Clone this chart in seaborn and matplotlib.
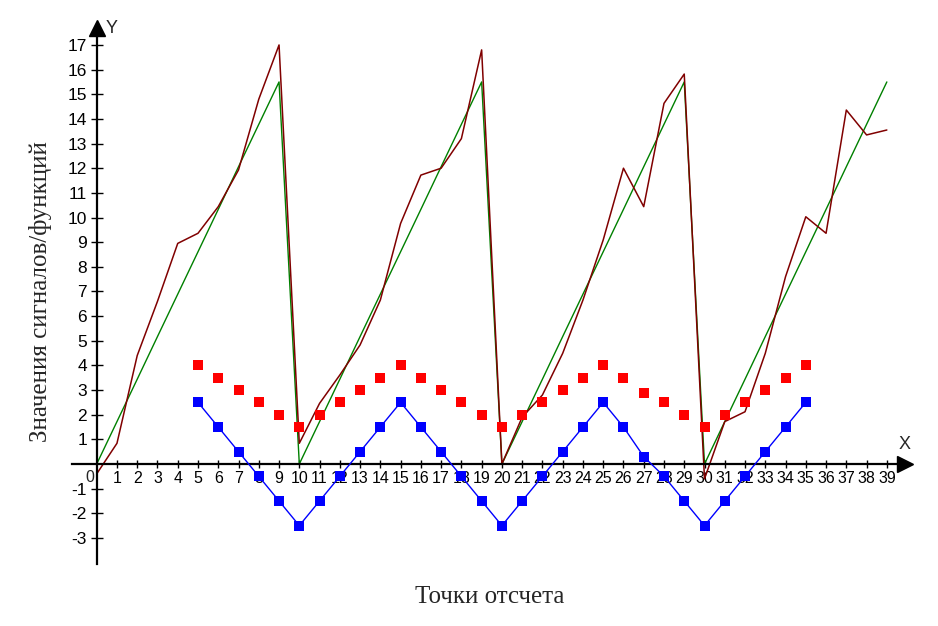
import numpy as np
import pandas as pd
import seaborn as sns
import matplotlib.pyplot as plt

# signal samples 0..39
x_pts = list(range(40))
signal = [-0.4, 0.84, 4.4, 6.6, 8.95, 9.36, 10.44, 11.93, 14.8, 17.0,
          0.84, 2.46, 3.61, 4.83, 6.65, 9.76, 11.72, 12.0, 13.2, 16.8,
          0.0, 1.9, 2.8, 4.49, 6.65, 9.09, 12.0, 10.44, 14.63, 15.82,
          -0.6, 1.72, 2.12, 4.49, 7.6, 10.03, 9.36, 14.36, 13.35, 13.55]
saw = [0, 1.72, 3.44, 5.17, 6.89, 8.61, 10.33, 12.06, 13.78, 15.5,
       0, 1.72, 3.44, 5.17, 6.89, 8.61, 10.33, 12.06, 13.78, 15.5,
       0, 1.72, 3.44, 5.17, 6.89, 8.61, 10.33, 12.06, 13.78, 15.5,
       0, 1.72, 3.44, 5.17, 6.89, 8.61, 10.33, 12.06, 13.78, 15.5]

# triangle functions on 5..35
x_tri = list(range(5, 36))
red_pts = [4, 3.5, 3, 2.5, 2, 1.5, 2, 2.5, 3, 3.5,
           4, 3.5, 3, 2.5, 2, 1.5, 2, 2.5, 3, 3.5,
           4, 3.5, 2.9, 2.5, 2, 1.5, 2, 2.5, 3, 3.5, 4]
blue_pts = [2.5, 1.5, 0.5, -0.5, -1.5, -2.5, -1.5, -0.5, 0.5, 1.5,
            2.5, 1.5, 0.5, -0.5, -1.5, -2.5, -1.5, -0.5, 0.5, 1.5,
            2.5, 1.5, 0.3, -0.5, -1.5, -2.5, -1.5, -0.5, 0.5, 1.5, 2.5]

x_ticks = list(range(1, 40))
y_ticks = [-3, -2, -1] + list(range(1, 18))

sns.set_style('white')
tick_font = ['Liberation Sans', 'DejaVu Sans']
serif_font = ['Liberation Serif', 'DejaVu Serif']

fig = plt.figure(figsize=(9.38, 6.26), dpi=100)
ax = fig.add_axes([0, 0, 1, 1])
ax.set_facecolor('white')

sns.lineplot(x=x_pts, y=saw, color='#008000', lw=1.0, ax=ax)
sns.lineplot(x=x_pts, y=signal, color='#800000', lw=1.1, ax=ax)
sns.scatterplot(x=x_tri, y=red_pts, marker='s', s=45, color='#ff0000',
                linewidth=0, ax=ax, zorder=3)
sns.lineplot(x=x_tri, y=blue_pts, color='#0000ff', lw=1.0, marker='s',
             markersize=6.5, markeredgewidth=0, ax=ax, zorder=4)

# pixel-matched limits
ax.set_xlim(-4.773, 41.525)
ax.set_ylim(-6.572, 18.824)

for s in ['top', 'right']:
    ax.spines[s].set_visible(False)
ax.spines['left'].set_position(('data', 0))
ax.spines['bottom'].set_position(('data', 0))
ax.spines['left'].set_bounds(-4.06, 17.6)
ax.spines['bottom'].set_bounds(-1.2, 39.9)
for s in ['left', 'bottom']:
    ax.spines[s].set_linewidth(1.6)
    ax.spines[s].set_color('black')

# arrow heads
ax.plot(39.9, 0, marker='>', ms=11, color='black', clip_on=False, zorder=5)
ax.plot(0, 17.69, marker='^', ms=11, color='black', clip_on=False, zorder=5)
ax.text(39.9, 0.45, 'X', ha='center', va='bottom', fontsize=13,
        family=tick_font)
ax.text(0.45, 17.65, 'Y', ha='left', va='center', fontsize=13,
        family=tick_font)

ax.set_xticks(x_ticks)
ax.set_xticklabels([str(v) for v in x_ticks], family=tick_font, fontsize=11.5)
ax.set_yticks(y_ticks)
ax.set_yticklabels([str(v) for v in y_ticks], family=tick_font, fontsize=12.5)
ax.tick_params(axis='x', direction='inout', length=6, width=1, pad=2,
               bottom=True, colors='black')
ax.tick_params(axis='y', direction='inout', length=8, width=1, pad=3,
               left=True, colors='black')
ax.annotate('0', xy=(0, 0), xytext=(-5, -4), textcoords='offset points',
            ha='center', va='top', fontsize=11.5, family=tick_font)
ax.grid(False)

fig.text(40 / 938, 1 - 292 / 626, 'Значения сигналов/функций', rotation=90,
         ha='center', va='center', fontsize=18, family=serif_font)
fig.text(490 / 938, 1 - 597 / 626, 'Точки отсчета', ha='center',
         va='center', fontsize=18, family=serif_font)

fig.savefig('out.png', dpi=100)
